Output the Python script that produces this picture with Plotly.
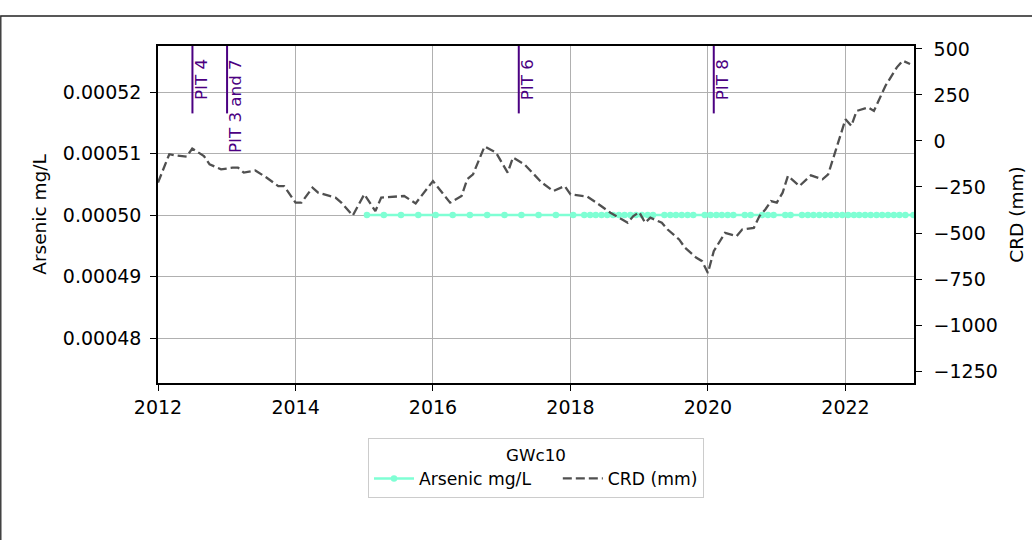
import plotly.graph_objects as go

# ---------------- data ----------------
crd_dates = [
    "2012-01-01", "2012-03-01", "2012-04-01", "2012-06-01", "2012-07-01", "2012-09-01",
    "2012-10-01", "2012-12-01", "2013-02-01", "2013-03-01", "2013-04-01", "2013-06-01",
    "2013-08-01", "2013-10-01", "2013-11-01", "2014-01-01", "2014-02-01", "2014-04-01",
    "2014-05-01", "2014-08-01", "2014-09-01", "2014-11-01", "2015-01-01", "2015-03-01",
    "2015-04-01", "2015-08-01", "2015-10-01", "2016-01-01", "2016-04-01", "2016-06-01",
    "2016-07-01", "2016-08-01", "2016-10-01", "2016-12-01", "2017-02-01", "2017-03-01",
    "2017-05-01", "2017-07-01", "2017-08-01", "2017-10-01", "2017-12-01", "2018-01-01",
    "2018-03-01", "2018-04-01", "2018-06-01", "2018-08-01", "2018-11-01", "2018-12-01",
    "2019-01-01", "2019-02-01", "2019-03-01", "2019-05-01", "2019-06-01", "2019-08-01",
    "2019-09-01", "2019-11-01", "2019-12-01", "2020-01-01", "2020-02-01", "2020-04-01",
    "2020-06-01", "2020-07-01", "2020-09-01", "2020-10-01", "2020-11-01", "2020-12-01",
    "2021-01-01", "2021-02-01", "2021-03-01", "2021-05-01", "2021-07-01", "2021-09-01",
    "2021-10-01", "2021-11-01", "2021-12-01", "2022-01-01", "2022-02-01", "2022-03-01",
    "2022-05-01", "2022-06-01", "2022-08-01", "2022-10-01", "2022-11-01", "2022-12-10",
]
crd_values = [
    -226, -72, -78, -85, -41, -82,
    -127, -154, -145, -145, -172, -160,
    -200, -245, -245, -335, -335, -254,
    -281, -308, -335, -405, -290, -381,
    -308, -299, -339, -218, -335, -299,
    -208, -181, -30, -63, -172, -90,
    -127, -190, -226, -272, -245, -290,
    -299, -303, -345, -390, -444, -408,
    -387, -444, -417, -444, -481, -535,
    -580, -635, -653, -717, -599, -499,
    -517, -481, -472, -408, -372, -327,
    -335, -281, -190, -245, -187, -208,
    -181, -82, 27, 118, 82, 163,
    182, 163, 299, 400, 436, 418,
]

arsenic_dates = [
    "2015-01-15", "2015-04-15", "2015-07-15", "2015-10-15",
    "2016-01-15", "2016-04-15", "2016-07-15", "2016-10-15",
    "2017-01-15", "2017-04-15", "2017-07-15", "2017-10-15",
    "2018-01-15", "2018-03-15", "2018-04-15", "2018-05-15", "2018-06-15",
    "2018-07-15", "2018-08-15", "2018-09-15", "2018-10-15", "2018-11-15", "2018-12-15",
    "2019-01-15", "2019-02-15", "2019-03-15", "2019-05-15", "2019-06-15",
    "2019-07-15", "2019-08-15", "2019-09-15", "2019-10-15", "2019-12-15",
    "2020-01-15", "2020-02-15", "2020-03-15", "2020-04-15", "2020-05-15",
    "2020-07-15", "2020-08-15", "2020-10-15", "2020-11-15", "2020-12-15",
    "2021-02-15", "2021-03-15", "2021-05-15", "2021-06-15", "2021-07-15",
    "2021-08-15", "2021-09-15", "2021-10-15", "2021-11-15", "2021-12-15",
    "2022-01-15", "2022-02-15", "2022-03-15", "2022-04-15", "2022-05-15", "2022-06-15",
    "2022-07-15", "2022-08-15", "2022-09-15", "2022-10-15", "2022-11-15", "2022-12-28",
]
arsenic_values = [0.0005] * len(arsenic_dates)

pit_labels = ["PIT 4", "PIT 3 and 7", "PIT 6", "PIT 8"]
pit_dates = ["2012-07-02", "2013-01-02", "2017-04-01", "2020-02-01"]

left_ticks = [0.00048, 0.00049, 0.00050, 0.00051, 0.00052]
right_ticks = [-1250, -1000, -750, -500, -250, 0, 250, 500]
year_ticks = ["2012-01-01", "2014-01-01", "2016-01-01", "2018-01-01", "2020-01-01", "2022-01-01"]
year_labels = ["2012", "2014", "2016", "2018", "2020", "2022"]

# ---------------- figure ----------------
FONT = "DejaVu Sans"
FS_TICK = 19
FS_TITLE = 18.5
FS = 17.2
PURPLE = "#4B0082"
NBSP = "\u00a0"

fig = go.Figure()
fig.add_trace(go.Scatter(
    x=arsenic_dates, y=arsenic_values, name="Arsenic mg/L" + NBSP * 4,
    mode="lines+markers",
    line=dict(color="aquamarine", width=2.5),
    marker=dict(color="aquamarine", size=6.5),
    yaxis="y",
))
fig.add_trace(go.Scatter(
    x=crd_dates, y=crd_values, name="CRD (mm)",
    mode="lines",
    line=dict(color="#505050", width=2.3, dash="9px,4px"),
    yaxis="y2",
))

L, R, T, B = 158, 914, 46, 383
W, H = 1032, 540
pw, ph = R - L, B - T

shapes = []
for d in pit_dates:
    shapes.append(dict(type="line", xref="x", yref="paper", x0=d, x1=d, y0=0.8, y1=1.0,
                       line=dict(color=PURPLE, width=2)))
# figure border (outer frame)
shapes.append(dict(type="rect", xref="paper", yref="paper",
                   x0=(0.8 - L) / pw, x1=(W + 20 - L) / pw,
                   y0=(B - (H + 20)) / ph, y1=(B - 16) / ph,
                   line=dict(color="#222222", width=1.3), fillcolor="rgba(0,0,0,0)", layer="below"))

annotations = []
for lab, d in zip(pit_labels, pit_dates):
    annotations.append(dict(x=d, y=(B - 58) / ph, xref="x", yref="paper", text=lab,
                            textangle=-90, showarrow=False, xanchor="left", yanchor="top",
                            font=dict(family=FONT, size=16.7, color=PURPLE),
                            xshift=-3, borderpad=0))

axis_common = dict(showline=True, linecolor="black", linewidth=1.5,
                   ticks="outside", ticklen=6, tickwidth=1.3, tickcolor="black",
                   tickfont=dict(family=FONT, size=FS_TICK, color="black"), zeroline=False,
                   automargin=False)

fig.update_layout(
    width=W, height=H,
    margin=dict(l=L, r=W - R, t=T, b=H - B, autoexpand=False),
    paper_bgcolor="white", plot_bgcolor="white",
    font=dict(family=FONT, size=FS, color="black"),
    xaxis=dict(type="date", range=["2012-01-01", "2022-12-31"],
               tickvals=year_ticks, ticktext=year_labels,
               showgrid=True, gridcolor="#b0b0b0", gridwidth=1.3, mirror=True,
               **axis_common),
    yaxis=dict(range=[0.0004727, 0.0005275], tickvals=left_ticks, tickformat=".5f",
               showgrid=True, gridcolor="#b0b0b0", gridwidth=1.3, mirror=False,
               ticklabelstandoff=5,
               title=dict(text="Arsenic mg/L", font=dict(family=FONT, size=FS_TITLE), standoff=11),
               **axis_common),
    yaxis2=dict(range=[-1315, 516], tickvals=right_ticks, overlaying="y", side="right",
                showgrid=False, ticklabelstandoff=8,
                title=dict(text="CRD (mm)", font=dict(family=FONT, size=FS_TITLE), standoff=13),
                **axis_common),
    legend=dict(orientation="h", x=0.5, xanchor="center", y=(B - 438) / ph, yanchor="top",
                bordercolor="#cccccc", borderwidth=1, bgcolor="white",
                font=dict(family=FONT, size=FS), itemwidth=40,
                title=dict(text="GWc10", side="top center", font=dict(family=FONT, size=16.7))),
    shapes=shapes,
    annotations=annotations,
    showlegend=True,
)

fig.write_html("out.html", config={"displayModeBar": False},
               post_script="document.body.style.margin='0px';")
